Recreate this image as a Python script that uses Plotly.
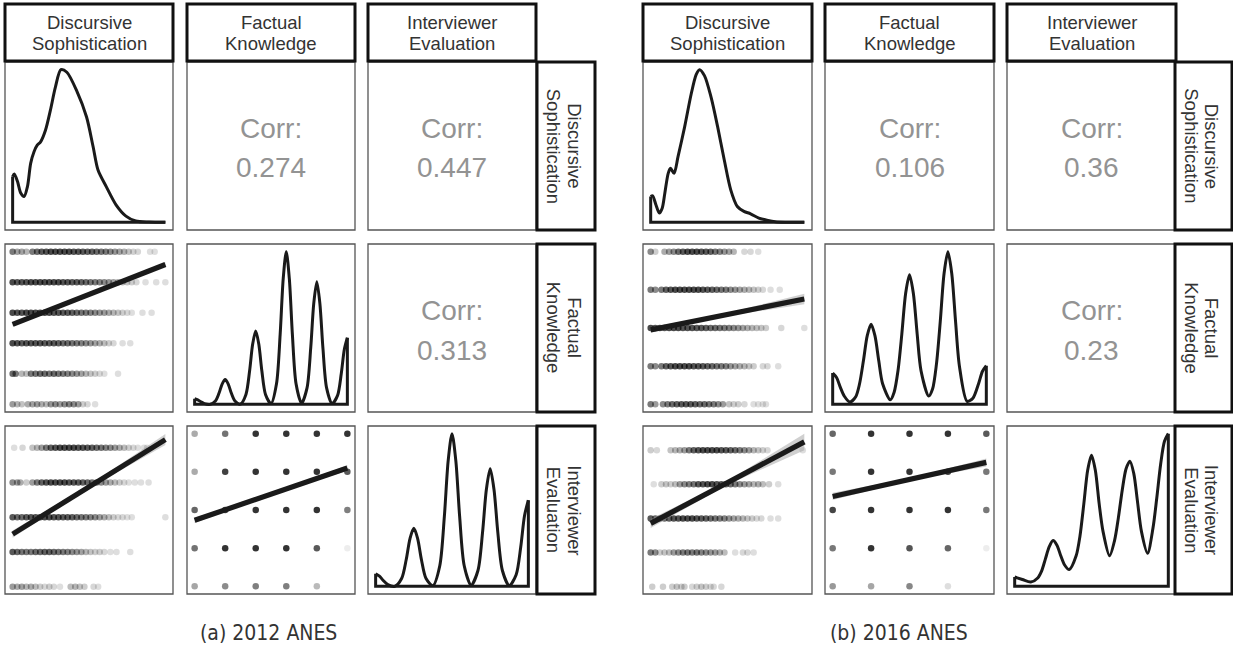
import plotly.graph_objects as go

W, H = 1233, 658
INK = "#1a1a1a"
STRIP_INK = "#333333"
CORR_INK = "#939393"
FONT = "Liberation Sans, Arial, sans-serif"
CAPTION_FONT = "Liberation Sans Narrow, DejaVu Sans Condensed, Liberation Sans, sans-serif"

VARS = [["Discursive", "Sophistication"], ["Factual", "Knowledge"], ["Interviewer", "Evaluation"]]

# ---------------- 2012 ANES ----------------
# Discursive sophistication density (x rescaled 0..1, peak density = 1)
ds12_x = [0.0, 0.011, 0.032, 0.054, 0.075, 0.097, 0.118, 0.14, 0.161, 0.183, 0.215, 0.247, 0.28, 0.316,
          0.355, 0.419, 0.484, 0.527, 0.559, 0.613, 0.677, 0.742, 0.806, 0.892, 1.0]
ds12_y = [0.30, 0.317, 0.267, 0.19, 0.169, 0.234, 0.386, 0.462, 0.505, 0.527, 0.603, 0.733, 0.885, 1.0,
          0.983, 0.863, 0.69, 0.495, 0.343, 0.234, 0.115, 0.041, 0.009, 0.002, 0.0]

# Factual knowledge density (0..5 correct answers)
fk12_x = [0, 0.1, 0.2, 0.32, 0.5,
          0.68, 0.8, 0.9, 1.0, 1.1, 1.2, 1.32, 1.5,
          1.68, 1.8, 1.9, 2.0, 2.1, 2.2, 2.32, 2.5,
          2.68, 2.8, 2.9, 3.0, 3.1, 3.2, 3.32, 3.5,
          3.68, 3.8, 3.9, 4.0, 4.1, 4.2, 4.32, 4.5,
          4.68, 4.8, 4.9, 5.0]
fk12_y = [0.037, 0.03, 0.017, 0.005, 0.0,
          0.022, 0.074, 0.133, 0.162, 0.133, 0.074, 0.022, 0.002,
          0.065, 0.22, 0.395, 0.48, 0.395, 0.22, 0.065, 0.005,
          0.135, 0.458, 0.823, 1.0, 0.823, 0.458, 0.135, 0.008,
          0.108, 0.368, 0.661, 0.803, 0.661, 0.368, 0.108, 0.005,
          0.059, 0.2, 0.359, 0.436]

# Interviewer evaluation density (1..5)
ie12_x = [1.0, 1.1, 1.2, 1.32, 1.5,
          1.68, 1.8, 1.9, 2.0, 2.1, 2.2, 2.32, 2.5,
          2.68, 2.8, 2.9, 3.0, 3.1, 3.2, 3.32, 3.5,
          3.68, 3.8, 3.9, 4.0, 4.1, 4.2, 4.32, 4.5,
          4.68, 4.8, 4.9, 5.0]
ie12_y = [0.082, 0.067, 0.038, 0.011, 0.0,
          0.051, 0.174, 0.313, 0.38, 0.313, 0.174, 0.051, 0.005,
          0.135, 0.458, 0.823, 1.0, 0.823, 0.458, 0.135, 0.008,
          0.104, 0.353, 0.634, 0.77, 0.634, 0.353, 0.104, 0.005,
          0.076, 0.258, 0.464, 0.564]

# Observations (sophistication, opacity) by factual-knowledge level
pts12_ds_fk = {
    5: [(0.00, .40), (0.03, .28), (0.06, .28), (0.09, .22), (0.13, .40), (0.16, .45), (0.19, .50), (0.22, .52),
        (0.25, .55), (0.28, .55), (0.31, .55), (0.34, .55), (0.37, .55), (0.40, .52), (0.43, .52), (0.46, .50),
        (0.49, .48), (0.52, .48), (0.55, .45), (0.58, .42), (0.61, .40), (0.64, .36), (0.67, .32), (0.70, .28),
        (0.73, .24), (0.76, .18), (0.79, .14), (0.82, .12), (0.90, .10), (0.93, .10)],
    4: [(0.00, .55), (0.03, .50), (0.06, .52), (0.09, .52), (0.12, .55), (0.15, .55), (0.18, .55), (0.21, .55),
        (0.24, .55), (0.27, .55), (0.30, .55), (0.33, .52), (0.36, .52), (0.39, .50), (0.42, .50), (0.45, .48),
        (0.48, .45), (0.51, .42), (0.54, .40), (0.57, .38), (0.60, .35), (0.63, .32), (0.66, .28), (0.69, .25),
        (0.72, .22), (0.75, .18), (0.78, .15), (0.81, .12), (0.87, .10), (0.94, .10), (1.00, .10)],
    3: [(0.00, .55), (0.03, .52), (0.06, .52), (0.09, .55), (0.12, .55), (0.15, .55), (0.18, .55), (0.21, .55),
        (0.24, .55), (0.27, .52), (0.30, .52), (0.33, .50), (0.36, .50), (0.39, .48), (0.42, .45), (0.45, .42),
        (0.48, .40), (0.51, .38), (0.54, .35), (0.57, .32), (0.60, .30), (0.63, .26), (0.66, .22), (0.69, .18),
        (0.72, .15), (0.75, .12), (0.78, .10), (0.85, .10), (0.91, .10)],
    2: [(0.00, .55), (0.03, .52), (0.06, .50), (0.09, .52), (0.12, .52), (0.15, .52), (0.18, .52), (0.21, .50),
        (0.24, .50), (0.27, .50), (0.30, .48), (0.33, .45), (0.36, .45), (0.39, .42), (0.42, .40), (0.45, .38),
        (0.48, .35), (0.51, .32), (0.54, .28), (0.57, .25), (0.60, .20), (0.63, .15), (0.66, .12), (0.72, .10),
        (0.77, .10)],
    1: [(0.00, .45), (0.02, .40), (0.06, .22), (0.09, .20), (0.12, .40), (0.15, .42), (0.18, .45), (0.21, .45),
        (0.24, .42), (0.27, .45), (0.30, .42), (0.33, .40), (0.36, .38), (0.39, .35), (0.42, .32), (0.45, .28),
        (0.48, .22), (0.51, .18), (0.54, .15), (0.57, .12), (0.60, .10), (0.69, .10)],
    0: [(0.00, .30), (0.03, .22), (0.06, .18), (0.10, .25), (0.13, .28), (0.16, .30), (0.19, .25), (0.22, .22),
        (0.25, .32), (0.28, .35), (0.31, .30), (0.34, .35), (0.37, .38), (0.40, .35), (0.43, .30), (0.46, .15),
        (0.49, .12), (0.54, .10)],
}

# Observations (sophistication, opacity) by interviewer-evaluation level
pts12_ds_ie = {
    5: [(0.01, .10), (0.065, .12), (0.13, .18), (0.16, .22), (0.19, .30), (0.22, .40), (0.25, .48), (0.28, .52),
        (0.31, .55), (0.34, .55), (0.37, .55), (0.40, .55), (0.43, .52), (0.46, .52), (0.49, .50), (0.52, .48),
        (0.55, .45), (0.58, .42), (0.61, .38), (0.64, .35), (0.67, .30), (0.70, .25), (0.73, .20), (0.76, .15),
        (0.79, .12), (0.82, .10), (0.86, .10), (0.88, .10)],
    4: [(0.00, .35), (0.03, .30), (0.05, .25), (0.09, .15), (0.13, .30), (0.16, .40), (0.19, .48), (0.22, .52),
        (0.25, .55), (0.28, .55), (0.31, .55), (0.34, .55), (0.37, .52), (0.40, .52), (0.43, .50), (0.46, .48),
        (0.49, .45), (0.52, .42), (0.55, .40), (0.58, .35), (0.61, .30), (0.64, .25), (0.67, .20), (0.70, .16),
        (0.73, .12), (0.76, .10), (0.80, .10), (0.84, .10), (0.89, .10)],
    3: [(0.00, .50), (0.03, .45), (0.06, .45), (0.09, .50), (0.12, .52), (0.15, .52), (0.18, .55), (0.21, .55),
        (0.24, .55), (0.27, .52), (0.30, .52), (0.33, .50), (0.36, .50), (0.39, .48), (0.42, .45), (0.45, .42),
        (0.48, .40), (0.51, .38), (0.54, .35), (0.57, .30), (0.60, .25), (0.63, .20), (0.66, .15), (0.69, .12),
        (0.72, .12), (0.75, .10), (0.78, .10), (1.00, .10)],
    2: [(0.00, .50), (0.03, .45), (0.06, .42), (0.09, .40), (0.12, .40), (0.15, .45), (0.18, .45), (0.21, .48),
        (0.24, .48), (0.27, .45), (0.30, .42), (0.33, .40), (0.36, .38), (0.39, .35), (0.42, .32), (0.45, .28),
        (0.48, .22), (0.51, .18), (0.54, .15), (0.57, .15), (0.60, .12), (0.64, .10), (0.68, .10), (0.77, .10)],
    1: [(0.00, .30), (0.03, .25), (0.06, .28), (0.09, .22), (0.12, .25), (0.15, .20), (0.18, .15), (0.21, .12),
        (0.24, .15), (0.27, .12), (0.31, .10), (0.38, .20), (0.41, .22), (0.44, .18), (0.47, .15), (0.53, .12),
        (0.56, .10)],
}

# Factual knowledge x interviewer evaluation cells: opacity per (IE row, FK column)
fk12_levels = [0, 1, 2, 3, 4, 5]
ie_levels = [5, 4, 3, 2, 1]
grid12_alpha = [[.33, .55, .80, .80, .80, .80],
                [.33, .75, .80, .80, .80, .65],
                [.60, .75, .80, .80, .80, .50],
                [.55, .80, .80, .80, .65, .07],
                [.35, .45, .50, .50, .27, .00]]

# Linear fits: endpoints of the line, and the confidence band at three points
fit12_ds_fk = dict(x=[0, 1], y=[2.62, 4.58], bx=[0, 0.5, 1], lo=[2.56, 3.58, 4.51], hi=[2.68, 3.62, 4.65])
fit12_ds_ie = dict(x=[0, 1], y=[2.515, 5.238], bx=[0, 0.5, 1], lo=[2.41, 3.84, 5.08], hi=[2.62, 3.92, 5.40])
fit12_fk_ie = dict(x=[0, 5], y=[2.73, 4.10], bx=[0, 2.5, 5], lo=[2.66, 3.39, 4.03], hi=[2.80, 3.44, 4.17])

corr12 = {"ds_fk": "0.274", "ds_ie": "0.447", "fk_ie": "0.313"}

# ---------------- 2016 ANES ----------------
ds16_x = [0.0, 0.013, 0.034, 0.056, 0.075, 0.092, 0.114, 0.129, 0.152, 0.178, 0.221, 0.264, 0.296, 0.318,
          0.35, 0.393, 0.436, 0.479, 0.521, 0.564, 0.607, 0.65, 0.704, 0.747, 0.811, 1.0]
ds16_y = [0.169, 0.174, 0.115, 0.061, 0.093, 0.191, 0.321, 0.354, 0.321, 0.43, 0.625, 0.842, 0.967, 1.0,
          0.961, 0.82, 0.625, 0.408, 0.213, 0.104, 0.072, 0.056, 0.028, 0.017, 0.004, 0.0]

fk16_x = [0, 0.1, 0.2, 0.3, 0.45,
          0.6, 0.7, 0.8, 0.9, 1.0, 1.1, 1.2, 1.3, 1.5,
          1.6, 1.7, 1.8, 1.9, 2.0, 2.1, 2.2, 2.3, 2.5,
          2.6, 2.7, 2.8, 2.9, 3.0, 3.1, 3.2, 3.3, 3.5,
          3.65, 3.8, 3.9, 4.0]
fk16_y = [0.205, 0.176, 0.111, 0.055, 0.015,
          0.05, 0.135, 0.285, 0.45, 0.525, 0.45, 0.285, 0.135, 0.03,
          0.08, 0.22, 0.46, 0.728, 0.849, 0.728, 0.46, 0.22, 0.054,
          0.10, 0.26, 0.54, 0.857, 1.0, 0.857, 0.54, 0.25, 0.02,
          0.04, 0.137, 0.217, 0.253]

ie16_x = [1.0, 1.2, 1.42,
          1.6, 1.7, 1.8, 1.9, 2.0, 2.1, 2.2, 2.3, 2.42,
          2.6, 2.7, 2.8, 2.9, 3.0, 3.1, 3.2, 3.3, 3.47,
          3.6, 3.7, 3.8, 3.9, 4.0, 4.1, 4.2, 4.3, 4.46,
          4.6, 4.7, 4.8, 4.9, 5.0]
ie16_y = [0.061, 0.045, 0.028,
          0.055, 0.10, 0.18, 0.26, 0.30, 0.27, 0.20, 0.14, 0.11,
          0.20, 0.33, 0.54, 0.76, 0.859, 0.76, 0.54, 0.36, 0.20,
          0.30, 0.45, 0.63, 0.77, 0.82, 0.74, 0.55, 0.36, 0.217,
          0.38, 0.58, 0.80, 0.95, 1.0]

pts16_ds_fk = {
    4: [(0.00, .35), (0.03, .15), (0.09, .25), (0.12, .30), (0.15, .35), (0.18, .45), (0.21, .50), (0.24, .55),
        (0.27, .55), (0.30, .55), (0.33, .52), (0.36, .50), (0.39, .48), (0.42, .42), (0.45, .38), (0.48, .32),
        (0.51, .28), (0.54, .22), (0.61, .12), (0.65, .12), (0.70, .10)],
    3: [(0.00, .40), (0.03, .35), (0.07, .40), (0.10, .48), (0.13, .52), (0.16, .55), (0.19, .55), (0.22, .55),
        (0.25, .55), (0.28, .55), (0.31, .55), (0.34, .52), (0.37, .50), (0.40, .48), (0.43, .45), (0.46, .42),
        (0.49, .40), (0.52, .35), (0.55, .32), (0.58, .28), (0.61, .25), (0.64, .22), (0.67, .18), (0.70, .15),
        (0.73, .12), (0.78, .10), (0.84, .10)],
    2: [(0.00, .55), (0.03, .52), (0.06, .52), (0.09, .52), (0.12, .55), (0.15, .55), (0.18, .55), (0.21, .52),
        (0.24, .52), (0.27, .52), (0.30, .50), (0.33, .50), (0.36, .48), (0.39, .45), (0.42, .45), (0.45, .42),
        (0.48, .40), (0.51, .38), (0.54, .35), (0.57, .32), (0.60, .28), (0.63, .25), (0.66, .22), (0.69, .20),
        (0.72, .18), (0.75, .15), (0.85, .12), (1.00, .10)],
    1: [(0.00, .40), (0.03, .35), (0.07, .40), (0.10, .48), (0.13, .52), (0.16, .55), (0.19, .55), (0.22, .55),
        (0.25, .55), (0.28, .52), (0.31, .52), (0.34, .50), (0.37, .48), (0.40, .45), (0.43, .42), (0.46, .40),
        (0.49, .38), (0.52, .32), (0.55, .28), (0.58, .25), (0.61, .22), (0.64, .18), (0.67, .15), (0.73, .12),
        (0.76, .12), (0.83, .10)],
    0: [(0.00, .40), (0.03, .30), (0.08, .35), (0.11, .40), (0.14, .45), (0.17, .48), (0.20, .50), (0.23, .50),
        (0.26, .50), (0.29, .48), (0.32, .45), (0.35, .45), (0.38, .42), (0.41, .40), (0.44, .35), (0.47, .30),
        (0.51, .18), (0.54, .15), (0.57, .15), (0.61, .12), (0.67, .10), (0.70, .10), (0.73, .10), (0.75, .10)],
}

pts16_ds_ie = {
    5: [(0.00, .15), (0.04, .12), (0.13, .18), (0.16, .22), (0.19, .25), (0.22, .30), (0.25, .40), (0.28, .48),
        (0.31, .52), (0.34, .55), (0.37, .55), (0.40, .55), (0.43, .55), (0.46, .52), (0.49, .50), (0.52, .48),
        (0.55, .45), (0.58, .40), (0.61, .35), (0.64, .30), (0.67, .22), (0.70, .18), (0.73, .15), (0.76, .12),
        (0.99, .10)],
    4: [(0.02, .10), (0.07, .15), (0.10, .18), (0.13, .15), (0.16, .20), (0.19, .30), (0.22, .35), (0.25, .38),
        (0.28, .42), (0.31, .50), (0.34, .52), (0.37, .55), (0.40, .55), (0.43, .52), (0.46, .50), (0.49, .48),
        (0.52, .45), (0.55, .40), (0.58, .35), (0.61, .30), (0.64, .28), (0.67, .22), (0.70, .25), (0.73, .20),
        (0.77, .15), (0.83, .10)],
    3: [(0.00, .50), (0.03, .45), (0.06, .42), (0.09, .45), (0.12, .48), (0.15, .52), (0.18, .52), (0.21, .55),
        (0.24, .55), (0.27, .55), (0.30, .52), (0.33, .50), (0.36, .48), (0.39, .45), (0.42, .42), (0.45, .40),
        (0.48, .38), (0.51, .32), (0.54, .28), (0.57, .25), (0.60, .22), (0.63, .18), (0.66, .15), (0.69, .12),
        (0.72, .12), (0.78, .10), (0.83, .10)],
    2: [(0.00, .40), (0.03, .35), (0.06, .15), (0.09, .18), (0.12, .20), (0.15, .30), (0.18, .35), (0.21, .40),
        (0.24, .42), (0.27, .40), (0.30, .42), (0.33, .38), (0.36, .35), (0.39, .32), (0.42, .30), (0.45, .25),
        (0.48, .20), (0.55, .10), (0.60, .12), (0.63, .12), (0.67, .10)],
    1: [(0.01, .15), (0.08, .15), (0.14, .15), (0.17, .18), (0.20, .15), (0.22, .15), (0.27, .12), (0.30, .15),
        (0.33, .18), (0.36, .15), (0.39, .12), (0.41, .12), (0.46, .12)],
}

fk16_levels = [0, 1, 2, 3, 4]
grid16_alpha = [[.60, .80, .80, .80, .65],
                [.53, .80, .80, .75, .53],
                [.73, .80, .80, .80, .53],
                [.53, .80, .67, .60, .07],
                [.40, .35, .47, .13, .00]]

fit16_ds_fk = dict(x=[0, 1], y=[1.95, 2.76], bx=[0, 0.5, 1], lo=[1.88, 2.32, 2.62], hi=[2.02, 2.39, 2.90])
fit16_ds_ie = dict(x=[0, 1], y=[2.854, 5.244], bx=[0, 0.5, 1], lo=[2.72, 3.99, 5.00], hi=[2.98, 4.10, 5.48])
fit16_fk_ie = dict(x=[0, 4], y=[3.355, 4.247], bx=[0, 2, 4], lo=[3.26, 3.77, 4.14], hi=[3.45, 3.83, 4.35])

corr16 = {"ds_fk": "0.106", "ds_ie": "0.36", "fk_ie": "0.23"}

captions = ["(a) 2012 ANES", "(b) 2016 ANES"]

# ---------------- layout geometry (pixels) ----------------
LAYOUT = [
    dict(cols=[5, 187, 368], pw=168, rstrip=(537, 595), cap_x=268),
    dict(cols=[643, 825, 1007], pw=169, rstrip=(1175, 1232), cap_x=899),
]
ROWS = [62, 244, 426]
PH = 168
TOP_STRIP = (4, 61)
POINT_GAIN = 1.3     # overplotting darkens dense runs of dots
DENS_W = 3.0
FIT_W = 5.2

fig = go.Figure()
shapes, annotations = [], []
_axis_count = [0]


def px_x(v):
    return v / W


def px_y(v):
    return 1 - v / H


def new_axes(x0, y0, w, h, xr, yr):
    _axis_count[0] += 1
    n = _axis_count[0]
    s = "" if n == 1 else str(n)
    common = dict(visible=False, fixedrange=True, showgrid=False, zeroline=False)
    fig.update_layout({
        f"xaxis{s}": dict(domain=[px_x(x0), px_x(x0 + w)], range=xr, anchor=f"y{s}", **common),
        f"yaxis{s}": dict(domain=[px_y(y0 + h), px_y(y0)], range=yr, anchor=f"x{s}", **common),
    })
    return f"x{s}", f"y{s}"


def pad(lo, hi, f=0.05):
    d = hi - lo
    return [lo - f * d, hi + f * d]


def draw_density(xa, ya, xs, ys):
    fig.add_trace(go.Scatter(x=xs, y=ys, mode="lines", xaxis=xa, yaxis=ya, hoverinfo="skip",
                             line=dict(color=INK, width=DENS_W, shape="spline", smoothing=0.8)))
    fig.add_trace(go.Scatter(x=[xs[-1], xs[-1], xs[0], xs[0]], y=[ys[-1], 0, 0, ys[0]], mode="lines",
                             xaxis=xa, yaxis=ya, hoverinfo="skip", line=dict(color=INK, width=DENS_W)))


def draw_rows(xa, ya, rows):
    for level, pts in rows.items():
        fig.add_trace(go.Scatter(x=[p[0] for p in pts], y=[level] * len(pts), mode="markers",
                                 xaxis=xa, yaxis=ya, hoverinfo="skip",
                                 marker=dict(size=6.5, color="black",
                                             opacity=[min(0.85, p[1] * POINT_GAIN) for p in pts],
                                             line=dict(width=0))))


def draw_grid(xa, ya, xlev, ylev, alpha):
    xs, ys, ops = [], [], []
    for j, yv in enumerate(ylev):
        for i, xv in enumerate(xlev):
            if alpha[j][i] > 0:
                xs.append(xv)
                ys.append(yv)
                ops.append(alpha[j][i])
    fig.add_trace(go.Scatter(x=xs, y=ys, mode="markers", xaxis=xa, yaxis=ya, hoverinfo="skip",
                             marker=dict(size=6.5, color="black", opacity=ops, line=dict(width=0))))


def draw_fit(xa, ya, fit):
    fig.add_trace(go.Scatter(x=fit["bx"] + fit["bx"][::-1], y=fit["hi"] + fit["lo"][::-1], mode="lines",
                             fill="toself", fillcolor="rgba(150,150,150,0.45)", line=dict(width=0),
                             xaxis=xa, yaxis=ya, hoverinfo="skip"))
    fig.add_trace(go.Scatter(x=fit["x"], y=fit["y"], mode="lines", xaxis=xa, yaxis=ya, hoverinfo="skip",
                             line=dict(color=INK, width=FIT_W)))


def corr_text(cx, cy, value):
    for txt, dy in (("Corr:", -18), (value, 22)):
        annotations.append(dict(x=px_x(cx), y=px_y(cy + dy), xref="paper", yref="paper", text=txt,
                                showarrow=False, xanchor="center", yanchor="middle",
                                font=dict(family=FONT, size=28, color=CORR_INK)))


def border(x0, y0, w, h):
    shapes.append(dict(type="rect", xref="paper", yref="paper", x0=px_x(x0), x1=px_x(x0 + w),
                       y0=px_y(y0 + h), y1=px_y(y0), line=dict(color="#555555", width=1.3),
                       fillcolor="rgba(0,0,0,0)", layer="above"))


def strip_box(x0, x1, y0, y1):
    shapes.append(dict(type="rect", xref="paper", yref="paper", x0=px_x(x0), x1=px_x(x1),
                       y0=px_y(y1), y1=px_y(y0), line=dict(color="#111111", width=3),
                       fillcolor="white", layer="above"))


def strip_text(cx, cy, lines, vertical=False):
    for k, txt in enumerate(lines):
        off = (k - 0.5) * 20.5
        if vertical:
            x, y, ang = cx - off, cy, 90
        else:
            x, y, ang = cx, cy + off, 0
        annotations.append(dict(x=px_x(x), y=px_y(y), xref="paper", yref="paper", text=txt,
                                showarrow=False, xanchor="center", yanchor="middle", textangle=ang,
                                font=dict(family=FONT, size=18.5, color=STRIP_INK)))


datasets = [
    dict(ds=(ds12_x, ds12_y), fk=(fk12_x, fk12_y), ie=(ie12_x, ie12_y), fk_levels=fk12_levels,
         pts_fk=pts12_ds_fk, pts_ie=pts12_ds_ie, grid=grid12_alpha,
         fit_fk=fit12_ds_fk, fit_ie=fit12_ds_ie, fit_grid=fit12_fk_ie, corr=corr12,
         yr_ds_fk=[-0.25, 5.25], yr_ds_ie=[0.79, 5.63]),
    dict(ds=(ds16_x, ds16_y), fk=(fk16_x, fk16_y), ie=(ie16_x, ie16_y), fk_levels=fk16_levels,
         pts_fk=pts16_ds_fk, pts_ie=pts16_ds_ie, grid=grid16_alpha,
         fit_fk=fit16_ds_fk, fit_ie=fit16_ds_ie, fit_grid=fit16_fk_ie, corr=corr16,
         yr_ds_fk=[-0.2, 4.2], yr_ds_ie=[0.785, 5.71]),
]

for geo, d, cap in zip(LAYOUT, datasets, captions):
    cols, pw = geo["cols"], geo["pw"]
    ds_range = pad(0, 1)
    fk_range = pad(d["fk_levels"][0], d["fk_levels"][-1])
    ie_range = pad(1, 5)
    dens_range = pad(0, 1)

    # diagonal densities
    xa, ya = new_axes(cols[0], ROWS[0], pw, PH, ds_range, dens_range)
    draw_density(xa, ya, *d["ds"])
    xa, ya = new_axes(cols[1], ROWS[1], pw, PH, fk_range, dens_range)
    draw_density(xa, ya, *d["fk"])
    xa, ya = new_axes(cols[2], ROWS[2], pw, PH, ie_range, dens_range)
    draw_density(xa, ya, *d["ie"])

    # lower triangle scatter + linear fits
    xa, ya = new_axes(cols[0], ROWS[1], pw, PH, ds_range, d["yr_ds_fk"])
    draw_rows(xa, ya, d["pts_fk"])
    draw_fit(xa, ya, d["fit_fk"])
    xa, ya = new_axes(cols[0], ROWS[2], pw, PH, ds_range, d["yr_ds_ie"])
    draw_rows(xa, ya, d["pts_ie"])
    draw_fit(xa, ya, d["fit_ie"])
    xa, ya = new_axes(cols[1], ROWS[2], pw, PH, fk_range, ie_range)
    draw_grid(xa, ya, d["fk_levels"], ie_levels, d["grid"])
    draw_fit(xa, ya, d["fit_grid"])

    # upper triangle correlations
    corr_text(cols[1] + pw / 2, ROWS[0] + PH / 2, d["corr"]["ds_fk"])
    corr_text(cols[2] + pw / 2, ROWS[0] + PH / 2, d["corr"]["ds_ie"])
    corr_text(cols[2] + pw / 2, ROWS[1] + PH / 2, d["corr"]["fk_ie"])

    # panel frames and strips
    for r in ROWS:
        for c in cols:
            border(c, r, pw, PH)
    for c, lab in zip(cols, VARS):
        strip_box(c, c + pw, TOP_STRIP[0], TOP_STRIP[1])
        strip_text(c + pw / 2, (TOP_STRIP[0] + TOP_STRIP[1]) / 2 + 0.5, lab)
    rx0, rx1 = geo["rstrip"]
    for r, lab in zip(ROWS, VARS):
        strip_box(rx0, rx1, r, r + PH)
        strip_text((rx0 + rx1) / 2 - 1.5, r + PH / 2, lab, vertical=True)

    annotations.append(dict(x=px_x(geo["cap_x"]), y=px_y(633), xref="paper", yref="paper", text=cap,
                            showarrow=False, xanchor="center", yanchor="middle",
                            font=dict(family=CAPTION_FONT, size=21, color="#333333")))

fig.update_layout(width=W, height=H, margin=dict(l=0, r=0, t=0, b=0), showlegend=False,
                  paper_bgcolor="white", plot_bgcolor="white", shapes=shapes, annotations=annotations)

fig.write_html("out.html")
